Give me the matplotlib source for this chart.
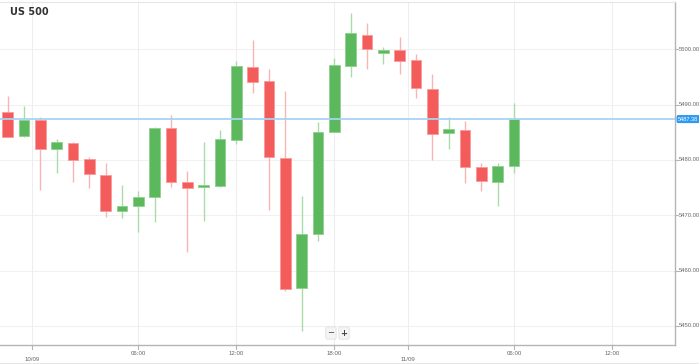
import matplotlib
matplotlib.use("Agg")
import matplotlib.pyplot as plt
import matplotlib.transforms as mtransforms

title = "US 500"
opens  = [5488.72, 5484.32, 5487.27, 5482.03, 5483.11, 5480.11, 5477.32, 5470.81,
          5471.61, 5473.35, 5485.71, 5475.95, 5475.05, 5475.34, 5483.60, 5496.85,
          5494.32, 5480.29, 5456.78, 5466.60, 5485.05, 5496.98, 5502.64, 5499.39,
          5499.87, 5498.12, 5492.88, 5484.81, 5485.35, 5478.66, 5476.06, 5478.84]
highs  = [5491.56, 5489.80, 5487.76, 5483.73, 5483.24, 5480.47, 5479.49, 5475.46,
          5474.43, 5485.90, 5488.12, 5478.05, 5483.29, 5485.41, 5497.94, 5501.68,
          5496.44, 5492.46, 5473.47, 5486.91, 5498.43, 5506.56, 5504.76, 5500.36,
          5502.17, 5499.15, 5495.53, 5487.70, 5487.03, 5479.39, 5479.49, 5490.34]
lows   = [5484.09, 5484.20, 5474.56, 5477.69, 5476.06, 5474.97, 5469.73, 5469.49,
          5467.02, 5468.77, 5475.15, 5463.35, 5469.01, 5475.15, 5482.88, 5492.04,
          5470.94, 5456.24, 5449.06, 5465.39, 5484.99, 5494.99, 5496.44, 5497.40,
          5495.53, 5491.19, 5480.04, 5482.03, 5475.77, 5474.43, 5471.72, 5477.58]
closes = [5484.20, 5487.22, 5481.97, 5483.24, 5479.98, 5477.40, 5470.71, 5471.66,
          5473.24, 5485.82, 5476.06, 5474.86, 5475.41, 5483.73, 5496.98, 5494.14,
          5480.47, 5456.71, 5466.65, 5484.99, 5497.22, 5503.00, 5500.11, 5499.87,
          5497.88, 5492.95, 5484.68, 5485.53, 5478.72, 5476.13, 5478.90, 5487.38]
last_price = 5487.38
y_ticks = [5450, 5460, 5470, 5480, 5490, 5500]
time_tick_pos = [8, 14, 20, 31, 37]
time_tick_labels = ["06:00", "12:00", "18:00", "06:00", "12:00"]
date_tick_pos = [1.5, 24.5]
date_tick_labels = ["10/09", "11/09"]

UP_BODY = "#5cb85c"
UP_WICK = "#a9dca9"
DN_BODY = "#f45b5b"
DN_WICK = "#f9b4b4"

fig = plt.figure(figsize=(6.99, 3.64), dpi=100)
ax = fig.add_axes([0.0, 0.0522, 0.9657, 0.9423])

xs = list(range(len(opens)))
for x, o, h, l, c in zip(xs, opens, highs, lows, closes):
    up = c >= o
    wick = UP_WICK if up else DN_WICK
    body = UP_BODY if up else DN_BODY
    edge = "#8fd18f" if up else "#fa9a9a"
    ax.vlines(x, l, h, color=wick, lw=1.0, zorder=2)
    bottom = min(o, c)
    height = max(abs(c - o), 0.45)
    ax.bar(x, height, bottom=bottom, width=0.64, color=body,
           edgecolor=edge, linewidth=0.6, zorder=3)

ax.axhline(last_price, color="#a6d4f5", lw=1.3, zorder=4)

ax.set_xlim(-0.47, 40.86)
ax.set_ylim(5446.53, 5508.55)

# grid
for yv in y_ticks:
    ax.axhline(yv, color="#f1f1f1", lw=0.8, zorder=0)
for xv in time_tick_pos + date_tick_pos:
    ax.axvline(xv, color="#eeeeee", lw=0.8, zorder=0)

ax.set_xticks([])
ax.set_yticks([])
ax.spines["left"].set_visible(False)
ax.spines["top"].set_color("#e6e6e6")
ax.spines["top"].set_linewidth(0.8)
ax.spines["bottom"].set_color("#b5b5b5")
ax.spines["bottom"].set_linewidth(1.0)
ax.spines["right"].set_color("#b5b5b5")
ax.spines["right"].set_linewidth(1.0)

LABEL_FONT = "Liberation Sans"

# y labels on right
trans_y = mtransforms.blended_transform_factory(ax.transAxes, ax.transData)
for yv in y_ticks:
    ax.plot([1.0, 1.005], [yv, yv], transform=trans_y, color="#b5b5b5", lw=0.8, clip_on=False)
    ax.text(1.006, yv, f"{yv:.2f}", transform=trans_y, fontsize=4.2, color="#666666",
            family=LABEL_FONT, va="center", ha="left", clip_on=False)
ax.text(1.0045, last_price, f"{last_price:.2f}", transform=trans_y, fontsize=4.0,
        color="white", family=LABEL_FONT, va="center", ha="left", clip_on=False,
        bbox=dict(boxstyle="round,pad=0.15,rounding_size=0.2", fc="#2f9bf0", ec="#2f9bf0"))

# x labels
trans_x = mtransforms.blended_transform_factory(ax.transData, ax.transAxes)
for xv, lab in zip(time_tick_pos, time_tick_labels):
    ax.plot([xv, xv], [0, -0.012], transform=trans_x, color="#b5b5b5", lw=0.8, clip_on=False)
    ax.text(xv, -0.018, lab, transform=trans_x, fontsize=4.4, color="#666666",
            family=LABEL_FONT, ha="center", va="top", clip_on=False)
for xv, lab in zip(date_tick_pos, date_tick_labels):
    ax.plot([xv, xv], [0, -0.012], transform=trans_x, color="#b5b5b5", lw=0.8, clip_on=False)
    ax.text(xv, -0.034, lab, transform=trans_x, fontsize=4.4, color="#666666",
            family=LABEL_FONT, ha="center", va="top", clip_on=False)

# title
fig.text(10 / 699, 1 - 12 / 364, title, fontsize=7, fontweight="bold", color="#333333",
         ha="left", va="center")

# zoom buttons
fig.text(331 / 699, 1 - 333 / 364, "\u2212", fontsize=6, color="#444444", ha="center", va="center",
         bbox=dict(boxstyle="round,pad=0.2", fc="#f4f4f4", ec="#dddddd", lw=0.5))
fig.text(344 / 699, 1 - 333 / 364, "+", fontsize=6, color="#444444", ha="center", va="center",
         fontweight="bold",
         bbox=dict(boxstyle="round,pad=0.2", fc="#f4f4f4", ec="#dddddd", lw=0.5))

# bottom light line
fig.add_artist(plt.Line2D([0, 1], [1 / 364, 1 / 364], color="#e6e6e6", lw=0.8))

fig.savefig("out.png", dpi=100, facecolor="white")
